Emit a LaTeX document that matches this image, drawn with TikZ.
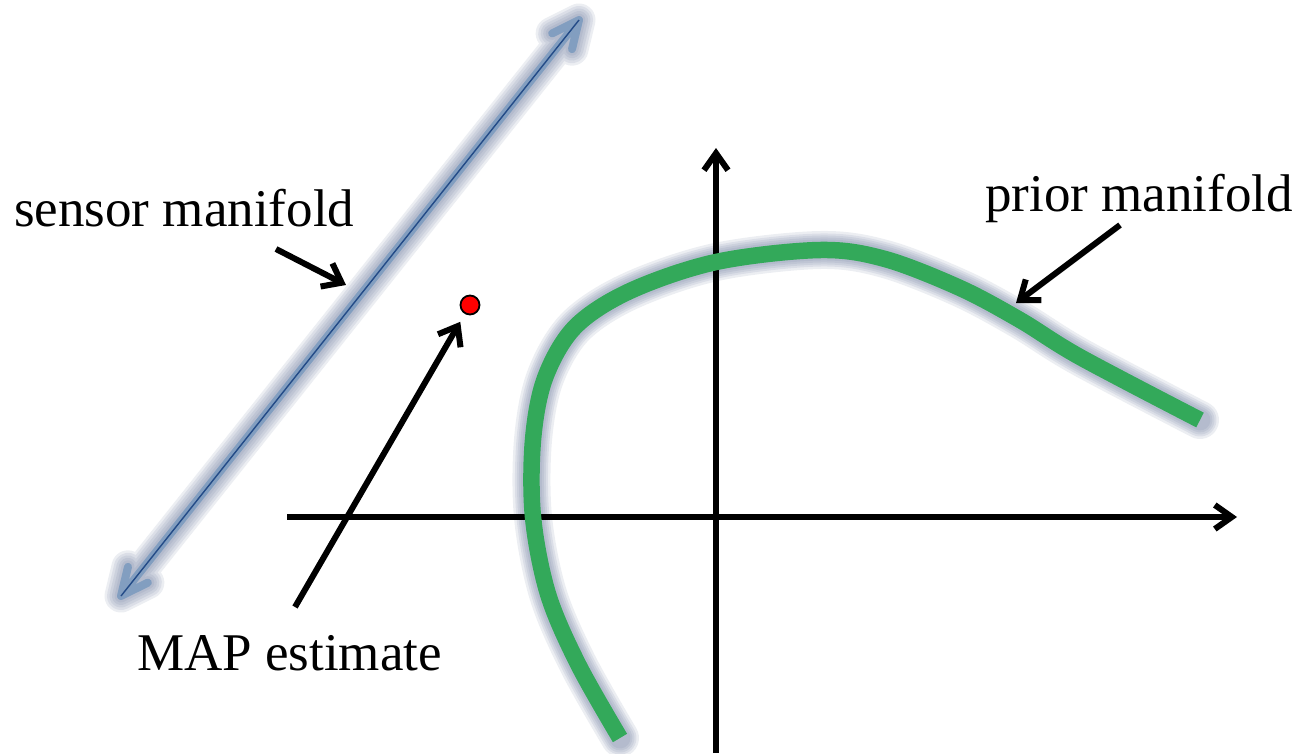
\documentclass[tikz,border=0pt]{standalone}
\usepackage{fontspec}
\setmainfont{Liberation Serif}
\usetikzlibrary{arrows.meta,calc}
\definecolor{glowc}{RGB}{105,120,155}
\definecolor{steel}{RGB}{130,158,192}
\definecolor{steeldark}{RGB}{35,75,135}
\definecolor{priorgreen}{RGB}{51,169,90}
\begin{document}
\begin{tikzpicture}[x=1pt,y=-1pt,
  lbl/.style={font=\fontsize{53}{60}\selectfont, inner sep=0pt, anchor=base west},
  ptr/.style={line width=6pt, -{Straight Barb[length=17pt,width=26pt]}},
  axis/.style={line width=6pt, -{Straight Barb[length=17pt,width=24pt]}},
  glowlayer/.style={draw=glowc, opacity=0.13, line cap=round, line join=round},
  sensorband/.style={draw=steel, line width=8pt, line cap=round, line join=round},
]
\useasboundingbox (0,0) rectangle (1296,753);

% coordinates
\coordinate (s1) at (121,596);
\coordinate (s2) at (579,20);
\coordinate (ta1) at ($(s2)!30pt!25:(s1)$);
\coordinate (ta2) at ($(s2)!30pt!-25:(s1)$);
\coordinate (ba1) at ($(s1)!30pt!25:(s2)$);
\coordinate (ba2) at ($(s1)!30pt!-25:(s2)$);
\coordinate (xa) at (287,517);
\coordinate (xb) at (1237,517);
\coordinate (ya) at (716,753);
\coordinate (yb) at (716,148);

\def\priorpath{plot[smooth, tension=0.55] coordinates {(620,738) (578,664) (548,594) (533,517) (533,440) (545,378) (575,327) (630,291) (716,262) (820,250) (885,259) (960,288) (1020,320) (1080,357) (1200,420)}}
\def\sensorpath{(s1) -- (s2) (ta1) -- (s2) -- (ta2) (ba1) -- (s1) -- (ba2)}

% glow of prior manifold
\foreach \w in {38,33,29,25,21} {
  \draw[glowlayer, line width=\w pt] \priorpath;
}
% glow of sensor manifold
\foreach \w in {33,28,23,18,13} {
  \draw[glowlayer, line width=\w pt] \sensorpath;
}

% axes
\draw[axis] (xa) -- (xb);
\draw[axis] (ya) -- (yb);

% prior manifold
\draw[draw=priorgreen, line width=16.5pt] \priorpath;

% sensor manifold
\draw[sensorband] \sensorpath;
\draw[draw=steeldark, line width=1.4pt] (s1) -- (s2);

% MAP point
\node[circle, fill=red, draw=black, line width=1.8pt, minimum size=19pt, inner sep=0pt] (map) at (470,305) {};

% labels
\node[lbl] (lsensor) at (14,226) {sensor manifold};
\node[lbl] (lprior) at (985,211) {prior manifold};
\node[lbl] (lmap) at (137,670) {MAP estimate};

% pointers
\coordinate (ps0) at (276,249);
\coordinate (ps1) at (346,285);
\draw[ptr] (ps0) -- (ps1);
\coordinate (pp0) at (1120,225);
\coordinate (pp1) at (1016,303);
\draw[ptr] (pp0) -- (pp1);
\coordinate (pm0) at (295,607);
\draw[ptr, shorten >=9pt] (pm0) -- (map);
\end{tikzpicture}
\end{document}
